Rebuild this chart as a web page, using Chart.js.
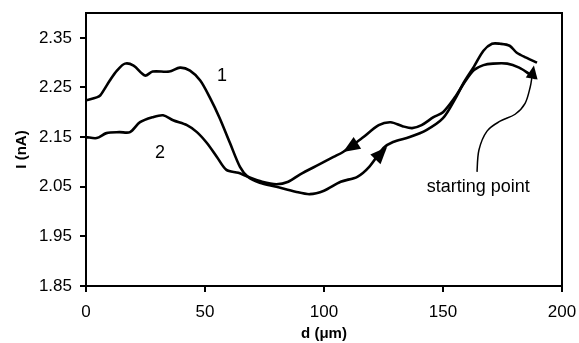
<!DOCTYPE html>
<html>
<head>
<meta charset="utf-8">
<script src="https://cdn.jsdelivr.net/npm/chart.js@4.4.1/dist/chart.umd.min.js"></script>
<style>
  html, body { margin: 0; padding: 0; background: #fff; }
  #wrap { width: 579px; height: 343px; }
</style>
</head>
<body>
<div id="wrap"><canvas id="graph"></canvas></div>
<script>
// curve 1 (starts high on the left)
const d1 = [0, 4.5, 6, 10, 13, 16.4, 20, 24.8, 28, 35, 39.5, 43.7, 48, 52, 56, 60.5, 64.7, 68, 73, 80, 88, 94, 100, 107, 114, 119, 125, 129, 136, 143, 150, 155, 159, 163, 167, 170.6, 174, 178, 181, 185, 189.5];
const i1 = [2.224, 2.23, 2.234, 2.264, 2.284, 2.298, 2.294, 2.274, 2.282, 2.282, 2.29, 2.284, 2.264, 2.23, 2.19, 2.138, 2.09, 2.07, 2.058, 2.05, 2.04, 2.035, 2.042, 2.06, 2.07, 2.09, 2.128, 2.14, 2.15, 2.164, 2.188, 2.226, 2.262, 2.292, 2.324, 2.338, 2.338, 2.334, 2.32, 2.31, 2.30];
// curve 2 (starts low on the left)
const d2 = [0, 4.5, 8.6, 14, 18.5, 22.7, 28, 32.4, 36.6, 42.4, 46.6, 50.8, 55, 59, 64, 68, 74, 80, 85, 90, 98, 104, 108, 116, 123, 128, 133, 137, 141, 146, 150, 155, 159, 163, 167, 171, 177, 182, 186, 189];
const i2 = [2.15, 2.148, 2.158, 2.16, 2.16, 2.18, 2.19, 2.194, 2.184, 2.174, 2.16, 2.138, 2.11, 2.084, 2.078, 2.07, 2.06, 2.055, 2.06, 2.075, 2.095, 2.11, 2.12, 2.148, 2.174, 2.18, 2.172, 2.168, 2.174, 2.19, 2.2, 2.23, 2.26, 2.285, 2.295, 2.298, 2.298, 2.29, 2.278, 2.268];
const yTicks = [1.85, 1.95, 2.05, 2.15, 2.25, 2.35];
const xTicks = [0, 50, 100, 150, 200];

// text labels and arrows, in data units
const notes = [
  { text: '1', d: 57.1, v: 2.274 },
  { text: '2', d: 31.1, v: 2.118 },
  { text: 'starting point', d: 164.8, v: 2.05 }
];
const dirArrows = [
  { tip: [108, 2.12], tail: [113.9, 2.138] },
  { tip: [126.5, 2.13], tail: [120.2, 2.098] }
];
const startPath = [[164.3, 2.08], [165.1, 2.124], [168.5, 2.162], [174, 2.182], [180.3, 2.196], [184.5, 2.218], [186.6, 2.25], [187.4, 2.272]];
const startTip = [188.2, 2.294];

const pts = (xs, ys) => xs.map((x, k) => ({ x: x, y: ys[k] }));

function head(ctx, tx, ty, fx, fy, len, half) {
  const a = Math.atan2(ty - fy, tx - fx);
  ctx.beginPath();
  ctx.moveTo(tx, ty);
  ctx.lineTo(tx - len * Math.cos(a) + half * Math.sin(a), ty - len * Math.sin(a) - half * Math.cos(a));
  ctx.lineTo(tx - len * Math.cos(a) - half * Math.sin(a), ty - len * Math.sin(a) + half * Math.cos(a));
  ctx.closePath();
  ctx.fill();
}

// smooth curve through points (catmull-rom)
function smooth(ctx, p) {
  ctx.beginPath();
  ctx.moveTo(p[0][0], p[0][1]);
  for (let k = 0; k < p.length - 1; k++) {
    const p0 = p[k - 1] || p[k], p1 = p[k], p2 = p[k + 1], p3 = p[k + 2] || p2;
    ctx.bezierCurveTo(p1[0] + (p2[0] - p0[0]) / 6, p1[1] + (p2[1] - p0[1]) / 6,
                      p2[0] - (p3[0] - p1[0]) / 6, p2[1] - (p3[1] - p1[1]) / 6, p2[0], p2[1]);
  }
  ctx.stroke();
}

const extras = {
  id: 'extras',
  afterDraw(chart) {
    const ctx = chart.ctx, xs = chart.scales.x, ys = chart.scales.y, a = chart.chartArea;
    const px = p => [xs.getPixelForValue(p[0]), ys.getPixelForValue(p[1])];
    ctx.save();
    ctx.strokeStyle = '#000';
    ctx.fillStyle = '#000';
    ctx.lineWidth = 2;
    ctx.strokeRect(a.left, a.top, a.right - a.left, a.bottom - a.top);

    ctx.font = '18px "Liberation Sans", Arial, sans-serif';
    ctx.textAlign = 'center';
    ctx.textBaseline = 'middle';
    notes.forEach(n => ctx.fillText(n.text, xs.getPixelForValue(n.d), ys.getPixelForValue(n.v)));

    dirArrows.forEach(ar => {
      const t = px(ar.tip), f = px(ar.tail);
      head(ctx, t[0], t[1], f[0], f[1], 17, 7);
    });

    ctx.lineWidth = 1.5;
    smooth(ctx, startPath.map(px));
    const t = px(startTip), f = px(startPath[startPath.length - 1]);
    head(ctx, t[0], t[1], f[0], f[1], 13, 6);
    ctx.restore();
  }
};

const tickFont = { family: '"Liberation Sans", Arial, sans-serif', size: 17 };
const titleFont = { family: '"Liberation Sans", Arial, sans-serif', size: 15, weight: 'bold' };

new Chart(document.getElementById('graph'), {
  type: 'line',
  data: {
    datasets: [
      { data: pts(d1, i1), borderColor: '#000', borderWidth: 2.6, pointRadius: 0, tension: 0.3 },
      { data: pts(d2, i2), borderColor: '#000', borderWidth: 2.6, pointRadius: 0, tension: 0.3 }
    ]
  },
  options: {
    responsive: true,
    maintainAspectRatio: false,
    animation: false,
    layout: { padding: { top: 13, right: 17, left: 0, bottom: 0 } },
    plugins: { legend: { display: false }, tooltip: { enabled: false } },
    scales: {
      x: {
        type: 'linear', min: 0, max: 200,
        afterBuildTicks: s => { s.ticks = xTicks.map(v => ({ value: v })); },
        afterFit: s => { s.height = 57; s.paddingLeft = 0; s.paddingRight = 0; },
        ticks: { color: '#000', font: tickFont, padding: 10, maxRotation: 0 },
        grid: { drawOnChartArea: false, color: '#000', lineWidth: 2, tickLength: 6 },
        border: { color: '#000', width: 2 },
        title: { display: true, text: 'd (\u03bcm)', color: '#000', font: titleFont, padding: { top: 0, bottom: 0 } }
      },
      y: {
        type: 'linear', min: 1.85, max: 2.4,
        afterBuildTicks: s => { s.ticks = yTicks.map(v => ({ value: v })); },
        afterFit: s => { s.width = 86; s.paddingTop = 0; s.paddingBottom = 0; },
        ticks: { color: '#000', font: tickFont, padding: 8, callback: v => v.toFixed(2) },
        grid: { drawOnChartArea: false, color: '#000', lineWidth: 2, tickLength: 6 },
        border: { color: '#000', width: 2 },
        title: { display: true, text: 'I (nA)', color: '#000', font: titleFont, padding: { top: 13, bottom: 0 } }
      }
    }
  },
  plugins: [extras]
});
</script>
</body>
</html>
